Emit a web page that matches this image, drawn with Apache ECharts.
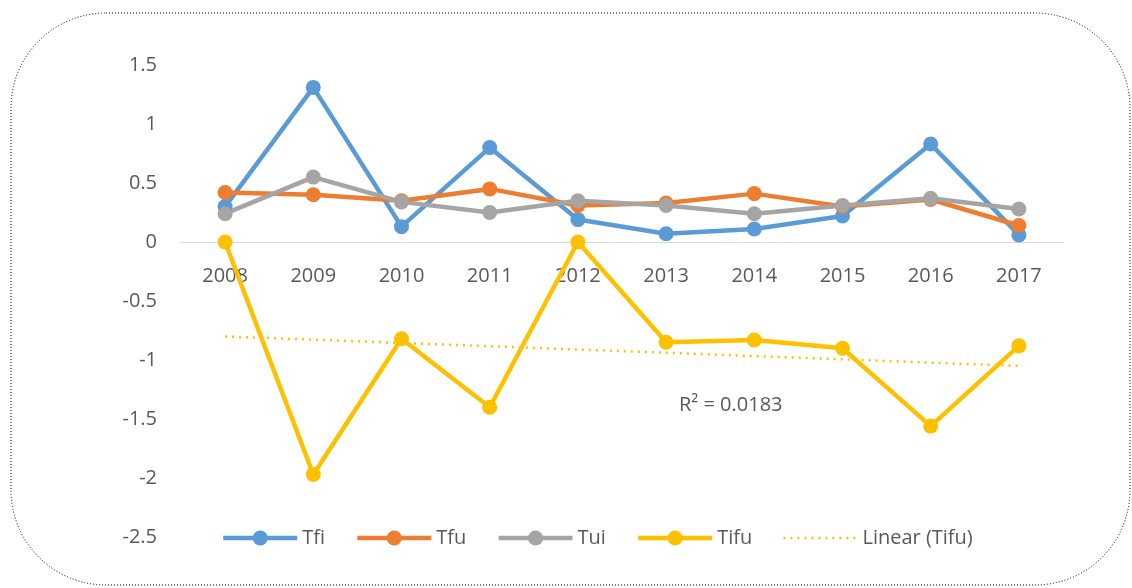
<!DOCTYPE html>
<html>
<head>
<meta charset="utf-8">
<script src="https://cdn.jsdelivr.net/npm/echarts@6/dist/echarts.min.js"></script>
<style>
  html, body { margin: 0; padding: 0; background: #fff; }
  #chart { width: 1132px; height: 588px; }
</style>
</head>
<body>
<div id="chart"></div>
<script>
// values
const years = ['2008', '2009', '2010', '2011', '2012', '2013', '2014', '2015', '2016', '2017']
const tfi  = [0.30, 1.31, 0.13, 0.80, 0.19, 0.07, 0.11, 0.22, 0.83, 0.06]
const tfu  = [0.42, 0.40, 0.35, 0.45, 0.31, 0.33, 0.41, 0.30, 0.36, 0.14]
const tui  = [0.24, 0.55, 0.34, 0.25, 0.35, 0.31, 0.24, 0.31, 0.37, 0.28]
const tifu = [0.00, -1.97, -0.82, -1.40, 0.00, -0.85, -0.83, -0.90, -1.56, -0.88]
// linear trend of Tifu, ends as drawn
const trendEnds = [-0.80, -1.05]
const rSquared = 'R² = 0.0183'

const font = 'Open Sans, Liberation Sans, sans-serif'
const textColor = '#595959'
const fontSize = 20

function lineSeries (name, data, color) {
    return {
        name: name,
        type: 'line',
        data: data,
        symbol: 'circle',
        symbolSize: 15,
        lineStyle: { width: 4.5, color: color },
        itemStyle: { color: color },
        z: 3
    }
}

let chart = echarts.init(document.getElementById('chart'))

let option = {
    animation: false,
    backgroundColor: '#fff',
    textStyle: { fontFamily: font },
    grid: { left: 181, right: 69, top: 65, bottom: 51 },
    legend: {
        left: 216,
        bottom: 35,
        itemWidth: 74,
        itemHeight: 19,
        itemGap: 30,
        lineStyle: { width: 4.5 },
        textStyle: { fontSize: fontSize, color: textColor, fontFamily: font },
        data: ['Tfi', 'Tfu', 'Tui', 'Tifu', {
            name: 'Linear (Tifu)',
            itemStyle: { opacity: 0 },
            lineStyle: { width: 2.5, type: [2, 5] }
        }]
    },
    xAxis: {
        type: 'category',
        data: years,
        boundaryGap: true,
        // label row sits under the zero line, as in the original
        offset: -295,
        axisLine: { onZero: false, lineStyle: { color: '#d9d9d9', width: 1 } },
        axisTick: { show: false },
        axisLabel: { fontSize: fontSize, color: textColor, margin: 24 }
    },
    yAxis: {
        type: 'value',
        min: -2.5,
        max: 1.5,
        interval: 0.5,
        splitLine: { show: false },
        axisLine: { show: false },
        axisTick: { show: false },
        axisLabel: { fontSize: fontSize, color: textColor, margin: 24 }
    },
    graphic: [
        {
            type: 'rect',
            shape: { x: 11, y: 13, width: 1119, height: 572, r: 95 },
            style: { fill: 'none', stroke: '#000', lineWidth: 1, lineDash: [1, 2] },
            silent: true,
            z: -10
        },
        {
            type: 'text',
            left: 679,
            top: 395,
            style: { text: rSquared, fontSize: fontSize, fill: textColor, fontFamily: font }
        }
    ],
    series: [
        lineSeries('Tfi', tfi, '#5b9bd5'),
        lineSeries('Tfu', tfu, '#ed7d31'),
        lineSeries('Tui', tui, '#a5a5a5'),
        lineSeries('Tifu', tifu, '#ffc000'),
        {
            name: 'Linear (Tifu)',
            type: 'line',
            data: [[years[0], trendEnds[0]], [years[years.length - 1], trendEnds[1]]],
            symbol: 'none',
            lineStyle: { width: 2.5, color: '#ffc000', type: [2, 5] },
            itemStyle: { color: '#ffc000' },
            z: 2
        }
    ]
}

chart.setOption(option)
</script>
</body>
</html>
